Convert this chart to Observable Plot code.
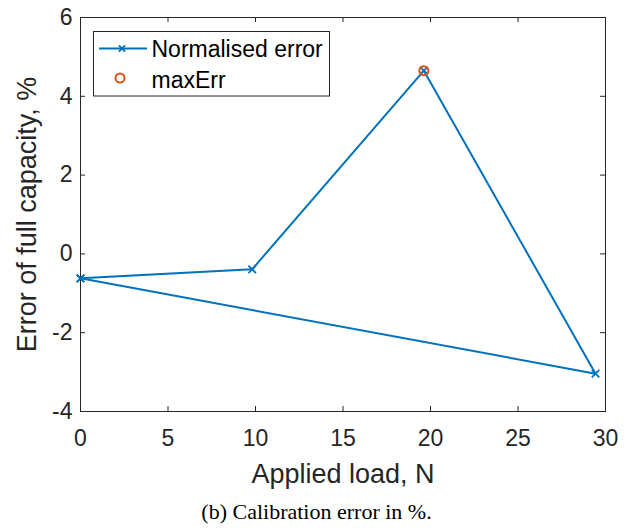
<!DOCTYPE html>
<html>
<head>
<meta charset="utf-8">
<script src="https://cdn.jsdelivr.net/npm/d3@7"></script>
<script src="https://cdn.jsdelivr.net/npm/@observablehq/plot@0.6"></script>
<style>
  body { margin: 0; background: #fff; }
  #wrap { position: relative; width: 633px; height: 531px; background: #fff; }
  #legend { position: absolute; left: 0; top: 0; }
  #caption { position: absolute; left: 0; width: 633px; top: 501px; text-align: center;
             font-family: "Liberation Serif", "Times New Roman", serif; font-size: 22px; line-height: 1; color: #000; }
  #chart g[aria-label$="tick label"] text { font-size: 23px; }
</style>
</head>
<body>
<div id="wrap"><div id="chart"></div><div id="caption">(b) Calibration error in %.</div></div>
<script>
// Data
const loadN  = [0, 9.81, 19.62, 29.43, 0];
const errPct = [-0.62, -0.39, 4.65, -3.04, -0.62];
const xTicks = [0, 5, 10, 15, 20, 25, 30];
const yTicks = [-4, -2, 0, 2, 4, 6];
const seriesNames = ["Normalised error", "maxErr"];
const xLabel = "Applied load, N";
const yLabel = "Error of full capacity, %";

const points = loadN.map((x, i) => ({x, y: errPct[i]}));
const maxPoint = points[d3.maxIndex(errPct)];

const blue = "#0072BD", orange = "#D95319", axisCol = "#262626";
const W = 633, H = 490, mt = 17, ml = 80, mr = 28, mb = 79;
const fw = W - ml - mr, fh = H - mt - mb;

const chart = Plot.plot({
  width: W, height: H,
  marginTop: mt, marginLeft: ml, marginRight: mr, marginBottom: mb,
  x: {domain: [0, 30]},
  y: {domain: [-4, 6]},
  style: {fontFamily: "'Liberation Sans', Arial, Helvetica, sans-serif", fontSize: "23px", color: axisCol, background: "white"},
  marks: [
    Plot.frame({stroke: axisCol, strokeWidth: 1}),
    Plot.ruleX(xTicks, {x: d => d, insetTop: fh - 5, stroke: axisCol}),
    Plot.ruleX(xTicks, {x: d => d, insetBottom: fh - 5, stroke: axisCol}),
    Plot.ruleY(yTicks, {y: d => d, insetRight: fw - 5, stroke: axisCol}),
    Plot.ruleY(yTicks, {y: d => d, insetLeft: fw - 5, stroke: axisCol}),
    Plot.axisX(xTicks, {tickSize: 0, tickPadding: 18, fontSize: 23, label: null, tickFormat: d => String(d)}),
    Plot.axisY(yTicks, {tickSize: 0, tickPadding: 8, fontSize: 23, label: null, tickFormat: d => String(d)}),
    Plot.text([xLabel], {frameAnchor: "bottom", dy: 71, lineAnchor: "bottom", textAnchor: "middle", fontSize: 27, fill: axisCol}),
    Plot.text([yLabel], {frameAnchor: "left", rotate: -90, dx: -45, lineAnchor: "bottom", textAnchor: "middle", fontSize: 27, fill: axisCol}),
    Plot.line(points, {x: "x", y: "y", stroke: blue, strokeWidth: 2}),
    Plot.dot(points, {x: "x", y: "y", symbol: "times", r: 3.5, stroke: blue, strokeWidth: 1.8}),
    Plot.dot([maxPoint], {x: "x", y: "y", r: 4.5, stroke: orange, strokeWidth: 2, fill: "none"})
  ]
});
document.getElementById("chart").appendChild(chart);

// Legend overlay
const lg = d3.select("#wrap").append("svg").attr("id", "legend")
  .attr("width", W).attr("height", 120)
  .style("font-family", "'Liberation Sans', Arial, Helvetica, sans-serif");
lg.append("rect").attr("x", 93.5).attr("y", 31.5).attr("width", 236).attr("height", 64.5)
  .attr("fill", "white").attr("stroke", axisCol).attr("stroke-width", 1);
lg.append("line").attr("x1", 99).attr("x2", 147).attr("y1", 48.5).attr("y2", 48.5)
  .attr("stroke", blue).attr("stroke-width", 2);
lg.append("path").attr("d", d3.symbol(d3.symbolTimes, Math.pow(3.5 * 2.2, 2) / 2.2)())
  .attr("transform", "translate(122,48.5)").attr("stroke", blue).attr("stroke-width", 1.8).attr("fill", "none");
lg.append("circle").attr("cx", 120).attr("cy", 78).attr("r", 4.5)
  .attr("fill", "none").attr("stroke", orange).attr("stroke-width", 2);
lg.append("text").attr("x", 151.5).attr("y", 56.5).attr("font-size", 23).attr("fill", "#000").text(seriesNames[0]);
lg.append("text").attr("x", 151.5).attr("y", 88).attr("font-size", 23).attr("fill", "#000").text(seriesNames[1]);
</script>
</body>
</html>
